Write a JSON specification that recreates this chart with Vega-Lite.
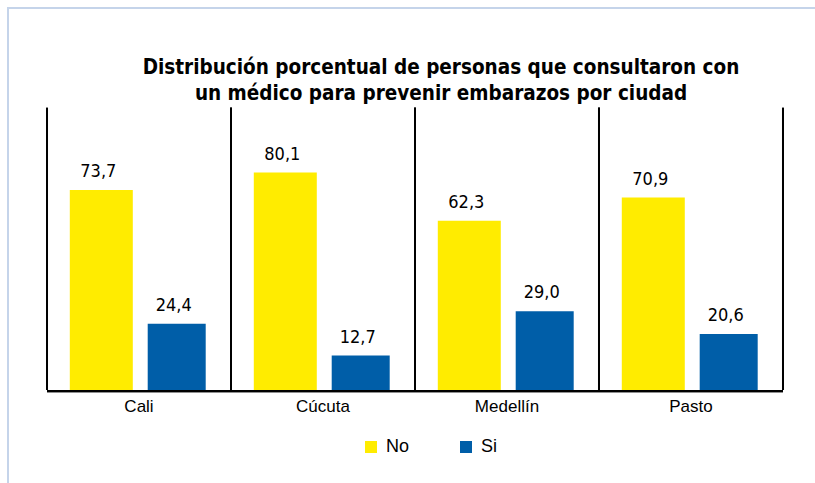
{
  "$schema": "https://vega.github.io/schema/vega-lite/v6.json",
  "autosize": "none",
  "width": 814,
  "height": 482,
  "padding": {"left": 8, "top": 8, "right": -7, "bottom": -7},
  "background": "white",
  "title": {
    "text": ["Distribución porcentual de personas que consultaron con", "un médico para prevenir embarazos por ciudad"],
    "anchor": "middle",
    "dx": 26,
    "offset": -112,
    "baseline": "alphabetic",
    "lineHeight": 26,
    "font": "Liberation Sans Narrow, DejaVu Sans Condensed, Arial Narrow, sans-serif",
    "fontSize": 20.5,
    "fontWeight": "bold",
    "color": "black"
  },
  "data": {
    "values": [
      {"Ciudad": "Cali", "Respuesta": "No", "Porcentaje": 73.7},
      {"Ciudad": "Cali", "Respuesta": "Si", "Porcentaje": 24.4},
      {"Ciudad": "Cúcuta", "Respuesta": "No", "Porcentaje": 80.1},
      {"Ciudad": "Cúcuta", "Respuesta": "Si", "Porcentaje": 12.7},
      {"Ciudad": "Medellín", "Respuesta": "No", "Porcentaje": 62.3},
      {"Ciudad": "Medellín", "Respuesta": "Si", "Porcentaje": 29.0},
      {"Ciudad": "Pasto", "Respuesta": "No", "Porcentaje": 70.9},
      {"Ciudad": "Pasto", "Respuesta": "Si", "Porcentaje": 20.6}
    ]
  },
  "layer": [
    {
      "transform": [{"filter": "datum.Respuesta == 'No'"}],
      "mark": {"type": "bar", "size": 63},
      "encoding": {
        "x": {"field": "Ciudad", "type": "nominal", "sort": null,
              "scale": {"paddingInner": 0, "paddingOuter": 0.212},
              "axis": {"title": null, "domain": false, "ticks": false, "labelAngle": 0, "offset": -100, "labelPadding": 8,
                       "labelFont": "Liberation Sans, Arial, sans-serif", "labelFontSize": 17, "labelColor": "black"}},
        "xOffset": {"field": "Respuesta", "type": "nominal", "scale": {"domain": ["No", "Si"], "paddingInner": 0.2, "paddingOuter": 0.32}},
        "y": {"field": "Porcentaje", "type": "quantitative", "scale": {"domain": [-36.83, 140.7], "nice": false, "zero": false}, "axis": null},
        "color": {"field": "Respuesta", "type": "nominal",
                  "scale": {"domain": ["No", "Si"], "range": ["#FFEC00", "#005EA8"]},
                  "legend": {"title": null, "orient": "none", "direction": "horizontal", "legendX": 354, "legendY": 430,
                             "symbolType": "square", "symbolSize": 144, "symbolStrokeWidth": 0, "labelOffset": 6, "columnPadding": 47,
                             "labelFont": "Liberation Sans, Arial, sans-serif", "labelFontSize": 18, "labelColor": "black", "padding": 0}}
      }
    },
    {
      "transform": [{"filter": "datum.Respuesta == 'Si'"}],
      "mark": {"type": "bar", "size": 58},
      "encoding": {
        "x": {"field": "Ciudad", "type": "nominal", "sort": null},
        "xOffset": {"field": "Respuesta", "type": "nominal"},
        "y": {"field": "Porcentaje", "type": "quantitative", "axis": null},
        "color": {"field": "Respuesta", "type": "nominal"}
      }
    },
    {
      "mark": {"type": "text", "baseline": "alphabetic", "dy": -13, "dx": -3,
               "font": "Liberation Sans Narrow, DejaVu Sans Condensed, Arial Narrow, sans-serif", "fontSize": 18, "color": "black"},
      "encoding": {
        "x": {"field": "Ciudad", "type": "nominal", "sort": null},
        "xOffset": {"field": "Respuesta", "type": "nominal"},
        "y": {"field": "Porcentaje", "type": "quantitative", "axis": null},
        "text": {"field": "Porcentaje", "type": "quantitative", "format": ".1f"}
      }
    },
    {
      "mark": {"type": "bar", "color": "black"},
      "encoding": {
        "x": {"field": "Ciudad", "type": "nominal", "sort": null},
        "y": {"datum": 0, "type": "quantitative", "axis": null},
        "y2": {"datum": -0.8}
      }
    },
    {
      "mark": {"type": "rule", "color": "black", "strokeWidth": 2},
      "encoding": {
        "x": {"field": "Ciudad", "type": "nominal", "sort": null, "bandPosition": 0},
        "y": {"datum": 0, "type": "quantitative", "axis": null},
        "y2": {"datum": 104}
      }
    },
    {
      "mark": {"type": "rule", "color": "black", "strokeWidth": 2},
      "encoding": {
        "x": {"field": "Ciudad", "type": "nominal", "sort": null, "bandPosition": 1},
        "y": {"datum": 0, "type": "quantitative", "axis": null},
        "y2": {"datum": 104}
      }
    }
  ],
  "config": {
    "view": {"stroke": "#C5D4EA", "strokeWidth": 2},
    "locale": {"number": {"decimal": ",", "thousands": ".", "grouping": [3], "currency": ["$", ""]}}
  }
}
